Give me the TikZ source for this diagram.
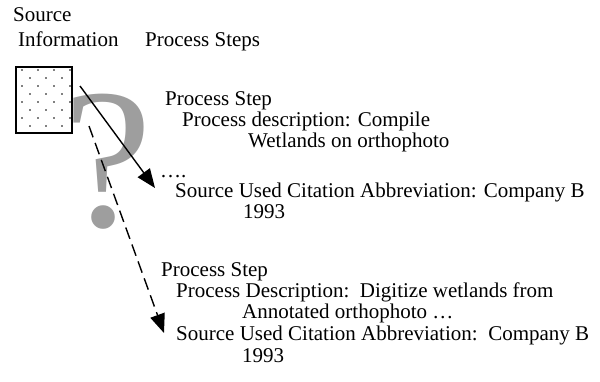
\documentclass[tikz,border=0pt]{standalone}
\usepackage{fontspec}
\setmainfont{Liberation Serif}
\usepackage{tikz}
\usetikzlibrary{arrows.meta}

\definecolor{qgray}{RGB}{158,158,158}

\begin{document}
\begin{tikzpicture}[x=1pt, y=-1pt, >={Triangle[length=19pt,width=15pt]},
  every node/.style={font=\fontsize{21}{23}\selectfont},
  txt/.style={anchor=base west, inner sep=0pt}]
  \useasboundingbox (0,0) rectangle (600,381);
  % headers
  \node[txt] (srchead) at (13,21) {Source};
  \node[txt] (infohead) at (18,46) {Information};
  \node[txt] (stephead) at (145,46) {Process Steps};
  % big question mark behind the arrows
  \node[anchor=base, inner sep=0pt, text=qgray, font=\fontsize{200}{200}\selectfont] (qmark) at (108,226) {?};
  % source box with dots
  \draw[line width=1.8pt, fill=white] (16,67) rectangle (72,133);
  \node[inner sep=0pt, minimum width=56pt, minimum height=66pt] (srcbox) at (44,100) {};
  \foreach \r in {0,...,7} {
    \pgfmathsetmacro{\yy}{70+\r*8}
    \ifodd\r
      \foreach \c in {30,46,62} \fill (\c,\yy) circle (0.8pt);
    \else
      \foreach \c in {22,38,54,70} \fill (\c,\yy) circle (0.8pt);
    \fi
  }
  % first process step
  \node[txt] (stepA) at (165,105) {Process Step};
  \node[txt] (descA) at (182,126) {Process description: Compile};
  \node[txt] (descAb) at (248,147) {Wetlands on orthophoto};
  \node[txt] (dotsA) at (160,177) {….};
  \node[txt] (citeA) at (175,197) {Source Used Citation Abbreviation: Company B};
  \node[txt] (yearA) at (243,218) {1993};
  % second process step
  \node[txt] (stepB) at (161,276) {Process Step};
  \node[txt] (descB) at (176,297) {Process Description:\ \ Digitize wetlands from};
  \node[txt] (descBb) at (242,318) {Annotated orthophoto …};
  \node[txt] (citeB) at (176,340) {Source Used Citation Abbreviation:\ \ Company B};
  \node[txt] (yearB) at (242,362) {1993};
  % arrows
  \coordinate (fromA) at (80,86);
  \coordinate (toA) at (155,188);
  \coordinate (fromB) at (89,126);
  \coordinate (toB) at (164,333);
  \draw[->, line width=1.4pt] (fromA) -- (toA);
  \draw[->, line width=1.4pt, dash pattern=on 12pt off 6pt] (fromB) -- (toB);
\end{tikzpicture}
\end{document}
